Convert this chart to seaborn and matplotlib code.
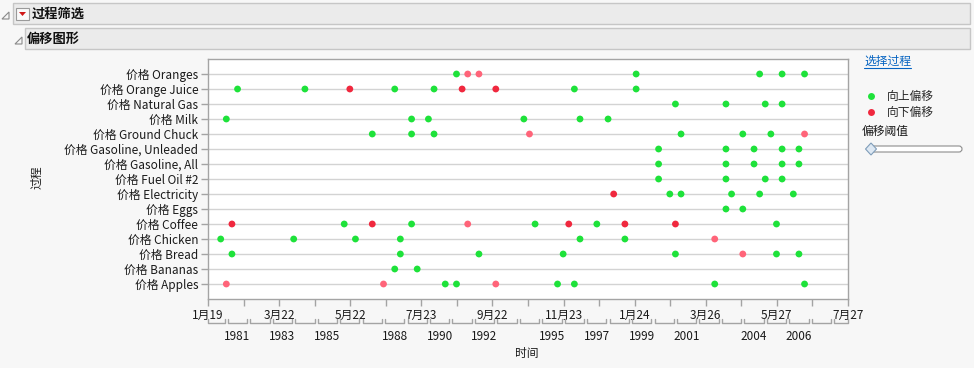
import matplotlib
matplotlib.use("Agg")
import matplotlib.pyplot as plt
import matplotlib.transforms as mtrans
from matplotlib.patches import Rectangle, Polygon, FancyBboxPatch
from matplotlib.lines import Line2D
import seaborn as sns
import pandas as pd
import numpy as np

# ---------------- data ----------------
# processes listed bottom -> top
processes = ["Apples", "Bananas", "Bread", "Chicken", "Coffee", "Eggs", "Electricity",
             "Fuel Oil #2", "Gasoline, All", "Gasoline, Unleaded", "Ground Chuck",
             "Milk", "Natural Gas", "Orange Juice", "Oranges"]

# shift times (decimal years) and direction: U = upward, D = downward (strong), d = downward (weak)
t_apples = [1981.0, 1988.0, 1990.75, 1991.25, 1993.0, 1995.75, 1996.5, 2002.75, 2006.75]
d_apples = ["d", "d", "U", "U", "d", "U", "U", "U", "U"]
t_bananas = [1988.5, 1989.5]
d_bananas = ["U", "U"]
t_bread = [1981.25, 1988.75, 1992.25, 1996.0, 2001.0, 2004.0, 2005.5, 2006.5]
d_bread = ["U", "U", "U", "U", "U", "d", "U", "U"]
t_chicken = [1980.75, 1984.0, 1986.75, 1988.75, 1996.75, 1998.75, 2002.75]
d_chicken = ["U", "U", "U", "U", "U", "U", "d"]
t_coffee = [1981.25, 1986.25, 1987.5, 1989.25, 1991.75, 1994.75, 1996.25, 1997.5, 1998.75, 2001.0, 2005.5]
d_coffee = ["D", "U", "D", "U", "d", "U", "D", "U", "D", "D", "U"]
t_eggs = [2003.25, 2004.0]
d_eggs = ["U", "U"]
t_electricity = [1998.25, 2000.75, 2001.25, 2003.5, 2004.75, 2006.25]
d_electricity = ["D", "U", "U", "U", "U", "U"]
t_fueloil = [2000.25, 2003.25, 2005.0, 2005.75]
d_fueloil = ["U", "U", "U", "U"]
t_gas_all = [2000.25, 2003.25, 2004.5, 2005.75, 2006.5]
d_gas_all = ["U", "U", "U", "U", "U"]
t_gas_unl = [2000.25, 2003.25, 2004.5, 2005.75, 2006.5]
d_gas_unl = ["U", "U", "U", "U", "U"]
t_chuck = [1987.5, 1989.25, 1990.25, 1994.5, 2001.25, 2004.0, 2005.25, 2006.75]
d_chuck = ["U", "U", "U", "d", "U", "U", "U", "d"]
t_milk = [1981.0, 1989.25, 1990.0, 1994.25, 1996.75, 1998.0]
d_milk = ["U", "U", "U", "U", "U", "U"]
t_natgas = [2001.0, 2003.25, 2005.0, 2005.75]
d_natgas = ["U", "U", "U", "U"]
t_oj = [1981.5, 1984.5, 1986.5, 1988.5, 1990.25, 1991.5, 1993.0, 1996.5, 1999.25]
d_oj = ["U", "U", "D", "U", "U", "D", "D", "U", "U"]
t_oranges = [1991.25, 1991.75, 1992.25, 1999.25, 2004.75, 2005.75, 2006.75]
d_oranges = ["U", "d", "d", "U", "U", "U", "U"]

times_by_process = [t_apples, t_bananas, t_bread, t_chicken, t_coffee, t_eggs, t_electricity,
                    t_fueloil, t_gas_all, t_gas_unl, t_chuck, t_milk, t_natgas, t_oj, t_oranges]
dirs_by_process = [d_apples, d_bananas, d_bread, d_chicken, d_coffee, d_eggs, d_electricity,
                   d_fueloil, d_gas_all, d_gas_unl, d_chuck, d_milk, d_natgas, d_oj, d_oranges]

major_labels = ["1月19", "3月22", "5月22", "7月23", "9月22", "11月23", "1月24", "3月26", "5月27", "7月27"]
year_labels = [1981, 1983, 1985, 1988, 1990, 1992, 1995, 1997, 1999, 2001, 2004, 2006]
bracket_years = list(range(1980, 2009))

rows = []
for p, ts, ds in zip(processes, times_by_process, dirs_by_process):
    for t, d in zip(ts, ds):
        rows.append({"process": p, "time": t, "dir": d})
df = pd.DataFrame(rows)
df["process"] = pd.Categorical(df["process"], categories=processes, ordered=True)

# ---------------- style ----------------
sns.set_style("white")
plt.rcParams['font.family'] = ['Noto Sans CJK SC', 'DejaVu Sans']

W, H = 974, 368
BG = '#f7f7f7'
fig = plt.figure(figsize=(W / 100, H / 100), dpi=100, facecolor=BG)

ax = fig.add_axes([208 / W, 1 - 299 / H, 640 / W, 240 / H])
ax.set_facecolor('white')

GREEN = '#1ee23a'
RED = '#f0283e'
PINK = '#ff6479'
palette = {"U": GREEN, "D": RED, "d": PINK}

sns.scatterplot(data=df, x="time", y="process", hue="dir", palette=palette,
                s=24, linewidth=0, legend=False, ax=ax, zorder=3)

XMIN, XMAX = 1980.184, 2008.685
ax.set_xlim(XMIN, XMAX)
ax.set_ylim(-1, len(processes))
ax.set_yticks(range(len(processes)))
ax.set_yticklabels(["价格 " + p for p in processes])
ax.set_axisbelow(True)
ax.yaxis.grid(True, color='#d3d3d3', lw=1)
ax.xaxis.grid(False)

major = np.linspace(XMIN, XMAX, len(major_labels))
ax.set_xticks(major)
ax.set_xticklabels(major_labels)
ax.set_xticks((major[:-1] + major[1:]) / 2, minor=True)
ax.set_xlabel("")
ax.set_ylabel("")

GRAY = '#a4a4a4'
for s in ax.spines.values():
    s.set_color(GRAY)
    s.set_linewidth(1)
ax.tick_params(axis='y', left=True, length=5, width=1, color=GRAY, pad=2,
               labelsize=8.5, labelcolor='#1a1a1a')
ax.tick_params(axis='x', which='both', bottom=True, length=5, width=1, color=GRAY,
               pad=2, labelsize=8.5, labelcolor='#1a1a1a')

trans = mtrans.blended_transform_factory(ax.transData, ax.transAxes)
for yr in bracket_years:
    a = max(yr + 0.07, XMIN)
    b = min(yr + 0.93, XMAX)
    if b <= a:
        continue
    ax.plot([a, a, b, b], [-0.083, -0.1, -0.1, -0.083], transform=trans,
            clip_on=False, color=GRAY, lw=1)
for yl in year_labels:
    ax.text(yl + 0.5, -0.155, str(yl), transform=trans, ha='center', va='center',
            fontsize=8.5, color='#1a1a1a')

# legend
handles = [Line2D([], [], marker='o', ls='', markersize=5, markerfacecolor=GREEN, markeredgewidth=0),
           Line2D([], [], marker='o', ls='', markersize=5, markerfacecolor=RED, markeredgewidth=0)]
leg = fig.legend(handles, ["向上偏移", "向下偏移"], loc='upper left',
                 bbox_to_anchor=(856 / W, 1 - 82 / H), bbox_transform=fig.transFigure,
                 frameon=False, fontsize=8.5, handletextpad=0.7, labelspacing=0.25,
                 handlelength=1.2, borderpad=0.2)

# ---------------- overlay decorations ----------------
ov = fig.add_axes([0, 0, 1, 1])
ov.set_xlim(0, W)
ov.set_ylim(H, 0)
ov.axis('off')
ov.patch.set_alpha(0)

ov.add_patch(Rectangle((13, 3), 957, 21, fc='#ebebeb', ec='#c6c6c6', lw=1))
ov.add_patch(Rectangle((25, 28), 945, 21, fc='#ebebeb', ec='#c6c6c6', lw=1))
ov.add_patch(Polygon([(2, 19), (9, 12), (9, 19)], closed=True, fill=False, ec='#8a8a8a', lw=0.8))
ov.add_patch(Polygon([(15, 44), (22, 37), (22, 44)], closed=True, fill=False, ec='#8a8a8a', lw=0.8))
ov.add_patch(Rectangle((16, 8), 13, 12, fc='#fafafa', ec='#9a9a9a', lw=0.8))
ov.add_patch(Polygon([(19, 12), (26, 12), (22.5, 16)], closed=True, fc='#d01818', ec='none'))
ov.text(32, 14, "过程筛选", fontsize=9.5, fontweight='bold', va='center', ha='left', color='#111111')
ov.text(27, 38.5, "偏移图形", fontsize=9.5, fontweight='bold', va='center', ha='left', color='#111111')

ov.text(37, 177, "过程", fontsize=8.5, rotation=90, va='center', ha='center', color='#1a1a1a')
ov.text(527, 354, "时间", fontsize=8.5, va='center', ha='center', color='#1a1a1a')

ov.text(864, 61, "选择过程", fontsize=8.5, va='center', ha='left', color='#0563c1')
ov.plot([864, 911], [67.5, 67.5], color='#0563c1', lw=0.8)
ov.text(862, 131, "偏移阈值", fontsize=8.5, va='center', ha='left', color='#1a1a1a')
ov.add_patch(FancyBboxPatch((868, 146), 94, 6, boxstyle="round,pad=0,rounding_size=3",
                            fc='white', ec='#8c8c8c', lw=0.8))
ov.add_patch(Polygon([(865.5, 149), (871, 143), (876.5, 149), (871, 155)], closed=True,
                     fc='#dde8f3', ec='#7f9db9', lw=0.8))

fig.savefig("out.png", dpi=100, facecolor=BG)
